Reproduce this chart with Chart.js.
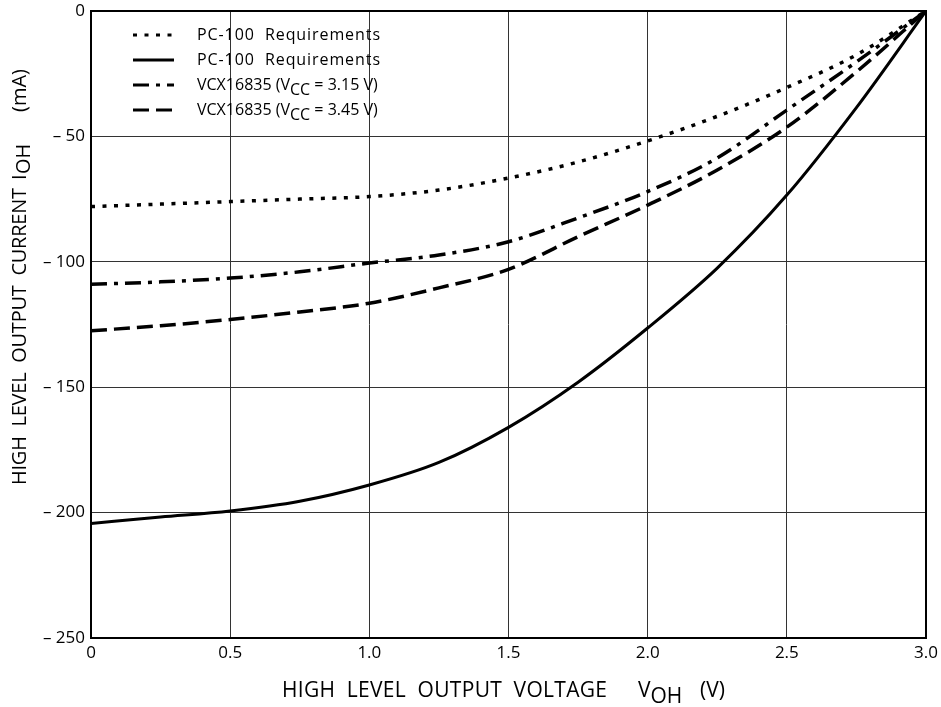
<!DOCTYPE html>
<html>
<head>
<meta charset="utf-8">
<script src="https://cdn.jsdelivr.net/npm/chart.js@4/dist/chart.umd.min.js"></script>
<style>
    html, body { margin: 0; padding: 0; background: #fff; }
    #wrap { width: 941px; height: 707px; }
</style>
</head>
<body>
<div id="wrap"><canvas id="ioh-chart"></canvas></div>
<script>
// Voltage points (V) and read-off currents (mA)
var voltages = [0, 0.25, 0.5, 0.75, 1.0, 1.25, 1.5, 1.75, 2.0, 2.25, 2.5, 2.75, 3.0];
var pc100Min = [-78, -77, -76, -75, -74, -71.4, -66.6, -60.2, -51.8, -42, -30.5, -17.5, 0];
var pc100Max = [-204.3, -201.8, -199.4, -195.5, -189, -180, -166, -148, -126.4, -102.5, -73.4, -38.5, 0];
var vcc315 = [-109, -108, -106.5, -104, -100.5, -97.3, -92, -82.5, -72, -58.6, -39.5, -20.3, 0];
var vcc345 = [-127.5, -125.5, -123, -120, -116.5, -110.4, -103, -90, -77.4, -63.4, -46.3, -24.3, 0];

var xTicks = [0, 0.5, 1.0, 1.5, 2.0, 2.5, 3.0];
var xTickLabels = ['0', '0.5', '1.0', '1.5', '2.0', '2.5', '3.0'];
var yTicks = [0, -50, -100, -150, -200, -250];
var yTickLabels = ['0', '\u2013 50', '\u2013 100', '\u2013 150', '\u2013 200', '\u2013 250'];

var fontFamily = '"Open Sans", "DejaVu Sans", sans-serif';
var ink = '#000';

function points(ys) {
    return voltages.map(function (v, i) { return { x: v, y: ys[i] }; });
}

var dotted = [4, 7.5],
    dashDot = [16, 7, 4, 7],
    dashed = [16, 7];

// text pieces split by '|', odd pieces are subscripts; width 0 = natural spacing
var legendItems = [
    { dash: dotted, text: 'PC-100  Requirements', width: 183 },
    { dash: [], text: 'PC-100  Requirements', width: 183 },
    { dash: dashDot, text: 'VCX16835 (V|CC| = 3.15 V)', width: 0 },
    { dash: dashed, text: 'VCX16835 (V|CC| = 3.45 V)', width: 0 }
];

// draw a string spread out char by char so it spans the given width
function drawSpread(c, text, x, y, width) {
    var chars = text.split(''),
        natural = c.measureText(text).width,
        extra = chars.length > 1 ? (width - natural) / (chars.length - 1) : 0;
    chars.forEach(function (ch) {
        c.fillText(ch, x, y);
        x += c.measureText(ch).width + extra;
    });
    return x - extra;
}

function drawLegendText(c, text, x, y, width) {
    var parts = text.split('|'),
        plain = parts.join(''),
        natural = c.measureText(plain).width,
        extra = width ? (width - natural) / (plain.length - 1) : 0;
    parts.forEach(function (p, i) {
        p.split('').forEach(function (ch) {
            c.fillText(ch, x, i % 2 ? y + 5 : y);
            x += c.measureText(ch).width + extra;
        });
    });
}

// Plugin: frame, legend and axis titles
var decorations = {
    id: 'decorations',
    afterDraw: function (chart) {
        var c = chart.ctx, a = chart.chartArea;
        c.save();
        c.strokeStyle = ink;
        c.lineWidth = 2;
        c.strokeRect(a.left, a.top, a.right - a.left, a.bottom - a.top);

        // legend
        c.fillStyle = ink;
        c.textBaseline = 'middle';
        c.textAlign = 'left';
        c.font = '16px ' + fontFamily;
        legendItems.forEach(function (item, i) {
            var y = 35 + i * 25;
            c.beginPath();
            c.setLineDash(item.dash);
            c.lineWidth = 3;
            c.moveTo(133, y);
            c.lineTo(174, y);
            c.stroke();
            c.setLineDash([]);
            drawLegendText(c, item.text, 197, y, item.width);
        });

        // x title
        c.font = '21px ' + fontFamily;
        drawSpread(c, 'HIGH  LEVEL  OUTPUT  VOLTAGE', 282, 691, 325);
        c.fillText('V', 638, 691);
        c.fillText('OH', 638 + c.measureText('V').width, 697);
        c.fillText('(V)', 700, 691);

        // y title
        c.font = '20px ' + fontFamily;
        c.translate(20, 485);
        c.rotate(-Math.PI / 2);
        drawSpread(c, 'HIGH  LEVEL  OUTPUT  CURRENT', 0, 0, 297);
        c.fillText('I', 305, 0);
        c.fillText('OH', 311, 4);
        c.fillText('(mA)', 373, 0);
        c.restore();
    }
};

var ctx = document.getElementById('ioh-chart');

var chart = new Chart(ctx, {
    type: 'line',
    data: {
        datasets: [
            { label: 'PC-100 Requirements', data: points(pc100Min), borderDash: dotted, borderWidth: 3.5 },
            { label: 'PC-100 Requirements', data: points(pc100Max), borderDash: [], borderWidth: 3 },
            { label: 'VCX16835 (VCC = 3.15 V)', data: points(vcc315), borderDash: dashDot, borderWidth: 3.5 },
            { label: 'VCX16835 (VCC = 3.45 V)', data: points(vcc345), borderDash: dashed, borderWidth: 3.5 }
        ]
    },
    options: {
        responsive: true,
        maintainAspectRatio: false,
        animation: false,
        layout: { padding: { top: 11, right: 15, left: 0, bottom: 0 } },
        elements: {
            point: { radius: 0 },
            line: { borderColor: ink, cubicInterpolationMode: 'monotone', fill: false }
        },
        scales: {
            x: {
                type: 'linear',
                min: 0,
                max: 3,
                afterFit: function (scale) {
                    scale.height = 69;
                    scale.paddingLeft = 0;
                    scale.paddingRight = 0;
                },
                afterBuildTicks: function (scale) {
                    scale.ticks = xTicks.map(function (v) { return { value: v }; });
                },
                grid: { color: '#333', lineWidth: 1, drawTicks: false },
                border: { display: false },
                ticks: {
                    color: ink,
                    padding: 5,
                    maxRotation: 0,
                    font: { family: fontFamily, size: 17 },
                    callback: function (v) { return xTickLabels[xTicks.indexOf(v)]; }
                }
            },
            y: {
                min: -250,
                max: 0,
                afterFit: function (scale) {
                    scale.width = 91;
                    scale.paddingTop = 0;
                    scale.paddingBottom = 0;
                },
                afterBuildTicks: function (scale) {
                    scale.ticks = yTicks.map(function (v) { return { value: v }; });
                },
                grid: { color: '#333', lineWidth: 1, drawTicks: false },
                border: { display: false },
                ticks: {
                    color: ink,
                    padding: 6,
                    font: { family: fontFamily, size: 17 },
                    callback: function (v) { return yTickLabels[yTicks.indexOf(v)]; }
                }
            }
        },
        plugins: {
            legend: { display: false },
            tooltip: { enabled: false }
        }
    },
    plugins: [decorations]
});
</script>
</body>
</html>
